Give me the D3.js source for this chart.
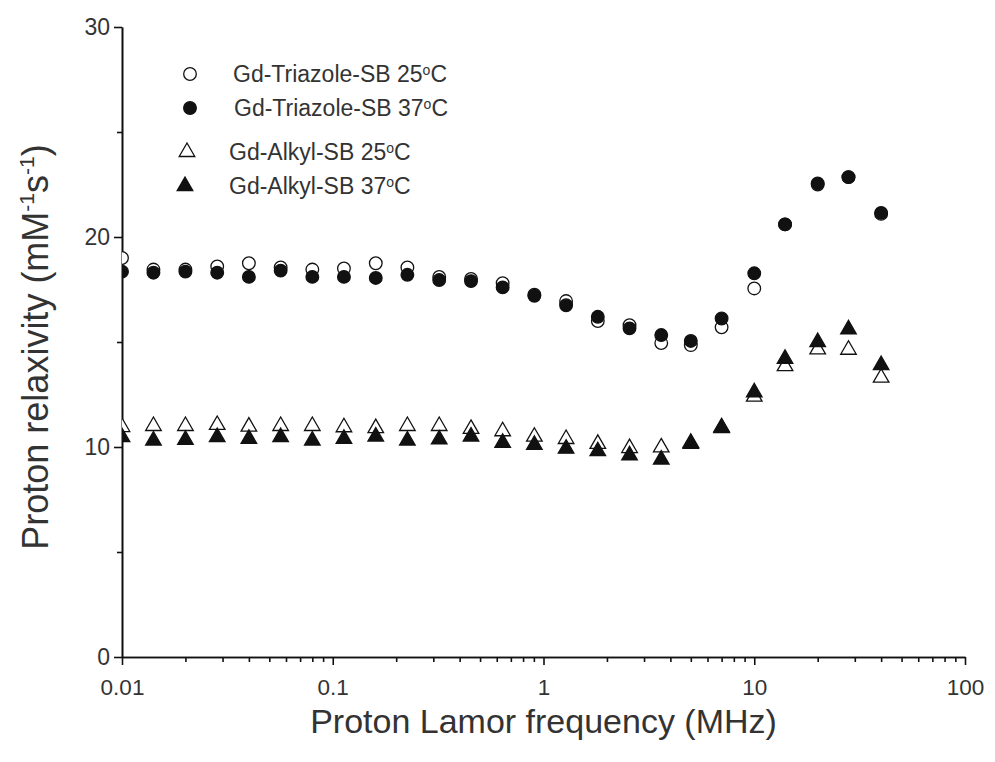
<!DOCTYPE html>
<html>
<head>
<meta charset="utf-8">
<script src="https://cdn.jsdelivr.net/npm/d3@7"></script>
<style>
  html, body { margin: 0; padding: 0; background: #fff; }
  svg { display: block; font-family: "Liberation Sans", Arial, sans-serif; }
</style>
</head>
<body>
<svg id="chart" width="995" height="762"></svg>
<script>
// Proton Larmor frequency (MHz)
const freq = [0.01, 0.0141, 0.02, 0.0283, 0.04, 0.0566, 0.08, 0.113, 0.16, 0.226,
              0.32, 0.453, 0.64, 0.905, 1.28, 1.81, 2.56, 3.62, 5.0, 7.0,
              10, 14, 20, 28, 40];

// Relaxivity (mM^-1 s^-1)
const triazole25 = [19.0, 18.45, 18.45, 18.6, 18.75, 18.55, 18.45, 18.5, 18.75, 18.55,
                    18.1, 18.0, 17.8, 17.25, 16.95, 16.0, 15.8, 14.95, 14.85, 15.7,
                    17.55, 20.6, 22.5, 22.85, 21.1];
const triazole37 = [18.35, 18.3, 18.35, 18.3, 18.1, 18.4, 18.1, 18.1, 18.05, 18.2,
                    17.95, 17.9, 17.6, 17.2, 16.75, 16.2, 15.65, 15.33, 15.05, 16.12,
                    18.27, 20.6, 22.55, 22.85, 21.15];
const alkyl25    = [10.95, 11.0, 11.0, 11.05, 10.97, 11.0, 11.0, 10.94, 10.9, 11.0,
                    11.0, 10.86, 10.75, 10.49, 10.38, 10.15, 9.95, 9.98, 10.2, 10.9,
                    12.4, 13.85, 14.65, 14.63, 13.3];
const alkyl37    = [10.47, 10.31, 10.34, 10.47, 10.39, 10.47, 10.31, 10.39, 10.5, 10.31,
                    10.36, 10.5, 10.2, 10.1, 9.92, 9.8, 9.6, 9.4, 10.15, 10.94,
                    12.6, 14.2, 15.0, 15.6, 13.9];

const seriesNames = ["Gd-Triazole-SB 25", "Gd-Triazole-SB 37", "Gd-Alkyl-SB 25", "Gd-Alkyl-SB 37"];

const xMajor = [0.01, 0.1, 1, 10, 100];
const xMajorLabels = ["0.01", "0.1", "1", "10", "100"];
const yMajor = [0, 10, 20, 30];
const yMinor = [5, 15, 25];

const svg = d3.select("#chart");
const plotL = 122, plotR = 965, plotT = 27, plotB = 657;

const x = d3.scaleLog().domain([0.01, 100]).range([plotL, plotR]);
const y = d3.scaleLinear().domain([0, 30]).range([plotB, plotT]);

// minor ticks at 2..9 of each decade
const xMinor = [];
for (let e = -2; e < 2; e++) for (let m = 2; m <= 9; m++) xMinor.push(m * Math.pow(10, e));

const ink = "#111";
const txt = "#333";
const fontFam = "Liberation Sans, Arial, sans-serif";

// axes
const gx = svg.append("g").attr("transform", `translate(0,${plotB})`);
gx.append("g").call(d3.axisBottom(x).tickValues(xMinor).tickFormat("").tickSize(5).tickSizeOuter(0));
gx.append("g").call(d3.axisBottom(x).tickValues(xMajor).tickFormat((d, i) => xMajorLabels[i])
        .tickSize(8).tickSizeOuter(0).tickPadding(14));
gx.selectAll("path, line").attr("stroke", ink).attr("stroke-width", 1.6);
gx.selectAll("text").attr("fill", txt).attr("font-size", 22.5).attr("font-family", fontFam);

const gy = svg.append("g").attr("transform", `translate(${plotL},0)`);
gy.append("g").call(d3.axisLeft(y).tickValues(yMinor).tickFormat("").tickSize(5).tickSizeOuter(0));
gy.append("g").call(d3.axisLeft(y).tickValues(yMajor).tickFormat(d3.format("d"))
        .tickSize(8).tickSizeOuter(0).tickPadding(4));
gy.selectAll("path, line").attr("stroke", ink).attr("stroke-width", 1.6);
gy.selectAll("text").attr("fill", txt).attr("font-size", 23).attr("font-family", fontFam);

// axis titles
svg.append("text")
  .attr("x", (plotL + plotR) / 2)
  .attr("y", 733)
  .attr("text-anchor", "middle")
  .attr("fill", txt)
  .attr("font-size", 34)
  .text("Proton Lamor frequency (MHz)");

const yt = svg.append("text")
  .attr("transform", "translate(48,347) rotate(-90)")
  .attr("text-anchor", "middle")
  .attr("fill", txt)
  .attr("font-size", 36);
yt.append("tspan").text("Proton relaxivity (mM");
yt.append("tspan").attr("font-size", 21).attr("dy", -14).text("-1");
yt.append("tspan").attr("dy", 14).text("s");
yt.append("tspan").attr("font-size", 21).attr("dy", -14).text("-1");
yt.append("tspan").attr("dy", 14).text(")");

// plot area clip
svg.append("clipPath").attr("id", "plotclip")
  .append("rect").attr("x", plotL).attr("y", plotT - 10)
  .attr("width", plotR - plotL + 10).attr("height", plotB - plotT + 10);

const circ = d3.symbol().type(d3.symbolCircle).size(125);
const tri = d3.symbol().type(d3.symbolTriangle).size(105);

const series = [
  { vals: triazole25, sym: circ, fill: "#fff" },
  { vals: alkyl25,    sym: tri,  fill: "#fff" },
  { vals: triazole37, sym: circ, fill: ink },
  { vals: alkyl37,    sym: tri,  fill: ink }
];

const plot = svg.append("g").attr("clip-path", "url(#plotclip)");
series.forEach(s => {
  plot.append("g").selectAll("path")
    .data(freq.map((f, i) => [f, s.vals[i]]))
    .join("path")
    .attr("d", s.sym)
    .attr("transform", d => `translate(${x(d[0])},${y(d[1])})`)
    .attr("fill", s.fill)
    .attr("stroke", ink)
    .attr("stroke-width", 1.3);
});

// legend
const legendRows = [
  { name: seriesNames[0], sym: circ, fill: "#fff", mx: 190, tx: 233, y: 74 },
  { name: seriesNames[1], sym: circ, fill: ink,   mx: 190, tx: 234, y: 108 },
  { name: seriesNames[2], sym: tri,  fill: "#fff", mx: 187, tx: 229, y: 152 },
  { name: seriesNames[3], sym: tri,  fill: ink,   mx: 185, tx: 229, y: 186 }
];
const lg = svg.append("g");
legendRows.forEach(r => {
  lg.append("path").attr("d", r.sym)
    .attr("transform", `translate(${r.mx},${r.y})`)
    .attr("fill", r.fill).attr("stroke", ink).attr("stroke-width", 1.3);
  const t = lg.append("text").attr("x", r.tx).attr("y", r.y + 8)
    .attr("fill", txt).attr("font-size", 23);
  t.append("tspan").text(r.name);
  t.append("tspan").attr("font-size", 14).attr("dy", -7).text("o");
  t.append("tspan").attr("dy", 7).text("C");
});
</script>
</body>
</html>
